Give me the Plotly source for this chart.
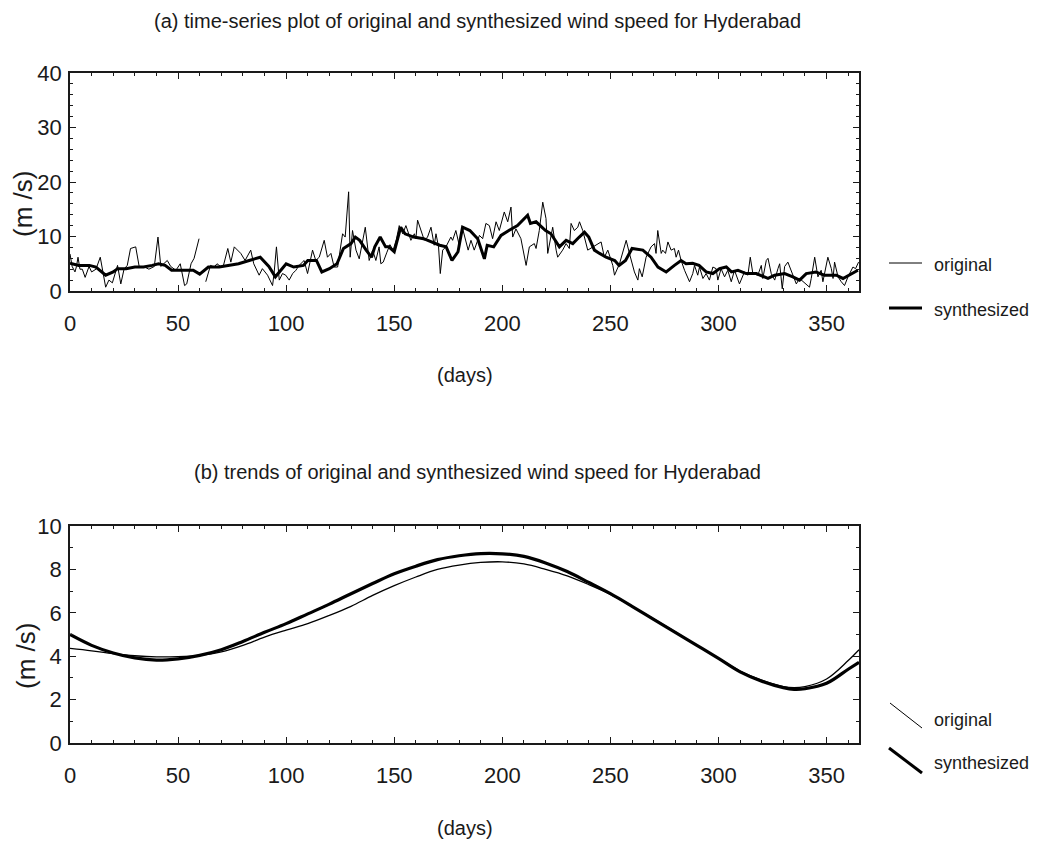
import plotly.graph_objects as go

# ---------------- data ----------------
orig_days = [0, 1, 2.3, 3, 3.7, 4.6, 5.7, 7, 8.8, 10, 12, 14, 16.5, 18, 19.6, 22, 23.5, 25, 26.5, 28,
             30.4, 32, 34, 36.5, 39, 40.7, 42, 45, 46.6, 49, 51, 53, 54, 56, 57.4, 58.5, 59.7, 61,
             62.8, 65, 66.7, 68, 70, 71, 73, 74.4, 76, 79, 81, 83.6, 85, 87.5, 89, 91.4, 93.7, 94.4,
             95.5, 96.8, 98.3, 99.8, 101.4, 103, 104.5, 106, 108.3, 109.9, 112.2, 113.7, 115.3, 117.6,
             119.1, 120.7, 122.2, 123.8, 126.1, 127.3, 128.9, 129.6, 130.7, 132.3, 133.8, 136.6, 138.4,
             140, 141.5, 143, 143.8, 144.9, 146.5, 148, 149.5, 151, 152.3, 153.9, 155.4, 157.7, 159.3,
             160, 160.8, 162.3, 163.9, 165.4, 167, 168.5, 169.3, 170.5, 171.3, 172.4, 173.9, 176.2, 177,
             178.5, 180, 181.6, 182.8, 184.2, 185.5, 187, 189.4, 190.9, 192.4, 194, 195.5, 197.1, 198.6,
             200.9, 202.5, 204, 204.8, 206.3, 208.6, 211, 212.5, 214.8, 215.6, 217.1, 218.7, 220.2, 221,
             223.3, 224.9, 225.6, 227.9, 229.5, 231, 231.8, 233.3, 234.9, 235.7, 237.2, 239.5, 241.8,
             245.7, 247.2, 248.8, 251.1, 251.9, 254.2, 255.7, 257.3, 258.8, 259.6, 261.1, 262.7, 263.4,
             264.7, 266.5, 268.8, 270.4, 271.1, 271.9, 273.5, 274.2, 275.5, 276.6, 278.1, 279.6, 280.4,
             281.5, 282.7, 284.3, 286.6, 288.1, 288.9, 290.4, 291.2, 292.8, 294.3, 295.8, 297.4, 298.9,
             299.7, 301.2, 302.8, 304.3, 305.9, 307.4, 309.7, 312, 313.6, 314.7, 315.9, 318.2, 319.8,
             320.5, 322.1, 322.9, 324.4, 326, 327.5, 328.3, 329.5, 330.6, 332.1, 333.7, 336, 337.5,
             340.6, 342.1, 342.9, 344.5, 346, 347.5, 348.3, 350.6, 352.2, 353, 353.7, 355.3, 356.8,
             358.3, 359.9, 362.2, 363.4, 364.8]
orig_vals = [6.8, 4.5, 3.5, 4.5, 6.2, 4.0, 4.0, 2.5, 4.5, 3.5, 4.0, 6.2, 0.7, 2.0, 1.5, 4.7, 1.3, 4.0, 4.7, 7.8,
             8.1, 4.5, 4.5, 4.0, 4.5, 9.9, 4.5, 5.6, 4.5, 3.8, 5.0, 1.0, 1.3, 5.0, 6.0, 7.5, 9.6, None,
             1.7, 4.7, 4.4, 5.0, 4.4, 4.7, 7.8, 5.3, 8.1, 6.9, 5.6, 7.5, 5.0, 2.9, 4.1, 2.9, 1.0, 3.2,
             8.1, 2.0, 3.2, 2.9, 2.0, 3.2, 3.8, 4.7, 5.6, 3.2, 7.5, 5.6, 6.2, 9.3,
             6.2, 6.9, 4.4, 4.4, 10.5, 9.9, 18.2, 6.2, 11.1, 7.5, 5.9, 11.7, 5.6,
             7.5, 5.6, 8.1, 5.0, 5.3, 7.0, 8.5, 7.5, 9.5, 12.0, 10.5, 12.0, 9.3, 10.5,
             9.6, 13.0, 11.1, 9.3, 9.9, 11.7, 8.4, 10.5, 8.1, 3.2, 7.5, 8.1, 9.9, 9.3,
             11.1, 8.5, 11.5, 9.6, 7.5, 9.3, 7.5, 10.2, 9.6, 12.4, 12.0, 9.6, 12.7, 11.1,
             14.5, 12.7, 15.4, 9.9, 11.4, 9.6, 4.7, 8.1, 8.7, 7.8, 11.1, 16.3, 13.3, 6.9,
             11.7, 7.5, 6.2, 7.5, 8.7, 7.8, 12.4, 11.1, 11.7, 12.7, 11.1, 7.5, 8.1,
             9.0, 6.2, 7.5, 4.7, 2.9, 5.0, 7.2, 9.3, 6.9, 5.7, 3.5, 2.0, 4.1,
             2.6, 6.2, 8.1, 8.7, 6.9, 11.1, 6.9, 7.5, 6.9, 9.0, 7.5, 7.8, 6.2,
             7.5, 5.6, 3.8, 1.7, 3.2, 4.7, 2.9, 4.4, 2.3, 3.2, 2.0, 4.4, 4.1,
             2.0, 4.1, 2.6, 3.8, 1.7, 3.8, 1.3, 3.5, 2.9, 6.2, 3.2, 2.9, 4.7,
             2.3, 5.6, 6.0, 3.2, 2.0, 4.1, 5.0, 0.4, 4.5, 5.3, 3.5, 1.3, 2.3,
             1.3, 0.7, 2.3, 6.2, 2.6, 3.8, 1.7, 6.2, 4.1, 2.3, 5.3, 2.6, 1.7,
             1.0, 2.6, 4.4, 4.1, 5.3]

synth_days = [0, 4, 9, 12, 16.5, 20, 22, 26, 30, 34, 38, 41, 44, 47, 50, 54, 57, 60, 64, 69, 73.6, 78,
              82.9, 86, 88, 92, 95, 100, 103.5, 108, 110, 114, 116.5, 120, 123.5, 126.5, 130, 132, 134,
              137, 139.5, 141, 143.5, 146, 147.5, 150, 151.5, 153, 155, 159, 163.6, 167, 171, 174, 176.7,
              179.5, 181.6, 185, 188.6, 191.7, 193, 196, 199.4, 203, 207, 211.7, 213, 215.6, 220, 222.5,
              225, 226.4, 229.5, 232.6, 235.6, 238, 240, 242.6, 245, 248, 252, 254, 257, 260, 265, 268.8,
              272, 275.8, 279.6, 282.7, 285, 288, 291, 294.3, 297.4, 300.5, 303.6, 306, 309, 312.8,
              317.5, 322.9, 326, 330.6, 334.4, 337.5, 340.6, 345, 349, 354.5, 357.6, 361.4, 364.5]
synth_vals = [5.1, 4.7, 4.7, 4.4, 2.9, 3.5, 4.1, 4.1, 4.4, 4.4, 4.7, 5.0, 4.7, 3.8, 3.8, 3.8, 3.8, 3.1, 4.4,
              4.4, 4.7, 5.0, 5.6, 6.0, 6.2, 4.5, 2.6, 5.0, 4.4, 4.7, 5.6, 5.6, 3.5, 4.1, 5.0, 7.8, 8.7,
              9.9, 9.3, 7.5, 6.2, 8.1, 9.9, 8.1, 8.1, 7.2, 9.3, 11.7, 10.5, 9.9, 9.6, 9.0, 8.4, 8.1,
              5.6, 7.2, 11.7, 11.1, 9.6, 5.9, 8.4, 8.1, 10.2, 11.1, 12.0, 13.9, 12.4, 12.7, 11.1, 10.5,
              9.0, 8.1, 9.3, 8.7, 9.9, 10.8, 9.9, 7.5, 6.9, 6.2, 5.6, 4.7, 5.6, 7.8, 7.5, 6.2, 4.4, 3.5,
              4.7, 5.6, 5.0, 5.1, 4.7, 3.5, 3.2, 4.1, 4.4, 3.5, 3.8, 3.2, 3.2, 2.3, 2.9, 3.2, 2.6, 2.0,
              3.2, 3.5, 2.9, 2.9, 2.3, 3.2, 3.8]

trend_days = [0, 10, 20, 30, 40, 50, 60, 70, 80, 90, 100, 110, 120, 130, 140, 150, 160, 170, 180, 190,
              200, 210, 220, 230, 240, 250, 260, 270, 280, 290, 300, 310, 320, 330, 335, 340, 350, 360, 365]
trend_orig = [4.36, 4.25, 4.12, 4.02, 3.97, 3.98, 4.04, 4.2, 4.5, 4.88, 5.2, 5.5, 5.88, 6.3, 6.8, 7.25,
              7.65, 8.0, 8.2, 8.32, 8.35, 8.25, 8.0, 7.7, 7.3, 6.85, 6.3, 5.72, 5.12, 4.5, 3.9, 3.32,
              2.9, 2.6, 2.55, 2.6, 2.95, 3.8, 4.3]
trend_synth = [5.0, 4.5, 4.15, 3.92, 3.82, 3.88, 4.04, 4.3, 4.68, 5.1, 5.5, 5.95, 6.4, 6.88, 7.35, 7.8,
               8.15, 8.45, 8.63, 8.73, 8.72, 8.6, 8.3, 7.9, 7.4, 6.88, 6.3, 5.7, 5.1, 4.5, 3.9, 3.28,
               2.85, 2.55, 2.47, 2.5, 2.75, 3.4, 3.72]

x_ticks = [0, 50, 100, 150, 200, 250, 300, 350]
top_title = "(a) time-series plot of original and synthesized wind speed for Hyderabad"
bot_title = "(b) trends of original and synthesized wind speed for Hyderabad"
x_label = "(days)"
y_label = "(m /s)"
legend_names = ["original", "synthesized"]

# ---------------- figure ----------------
OFF = 8                                # page body margin in the browser
W, H = 1040 - OFF, 853 - OFF
L, R, T, B = 70, 859, 73, 743          # plot-area box in page pixels
PW, PH = R - L, B - T
def px(x): return (x - L) / PW
def py(y): return (B - y) / PH

FONT = "Liberation Sans, Arial, sans-serif"
INK = "#1a1a1a"

fig = go.Figure()
fig.add_trace(go.Scatter(x=orig_days, y=orig_vals, mode="lines", line=dict(color="black", width=1),
                         connectgaps=False, xaxis="x", yaxis="y", name=legend_names[0], showlegend=False))
fig.add_trace(go.Scatter(x=synth_days, y=synth_vals, mode="lines", line=dict(color="black", width=3),
                         xaxis="x", yaxis="y", name=legend_names[1], showlegend=False))
fig.add_trace(go.Scatter(x=trend_days, y=trend_orig, mode="lines", line=dict(color="black", width=1.3, shape="spline"),
                         xaxis="x2", yaxis="y2", name=legend_names[0], showlegend=False))
fig.add_trace(go.Scatter(x=trend_days, y=trend_synth, mode="lines", line=dict(color="black", width=3.2, shape="spline"),
                         xaxis="x2", yaxis="y2", name=legend_names[1], showlegend=False))

top_dom = [py(291), 1.0]
bot_dom = [0.0, py(526)]

axis_common = dict(showline=True, linecolor=INK, linewidth=1.5, mirror="ticks", ticks="inside",
                   ticklen=6, tickwidth=1.2, tickcolor=INK, showgrid=False, zeroline=False,
                   tickfont=dict(family=FONT, size=22, color=INK))
xminor = dict(dtick=10, tick0=0, ticks="inside", ticklen=3, tickcolor=INK)

fig.update_layout(
    width=W, height=H,
    margin=dict(l=L - OFF, r=1040 - R, t=T - OFF, b=853 - B),
    paper_bgcolor="white", plot_bgcolor="white",
    showlegend=False,
    xaxis=dict(domain=[0, 1], range=[0, 365], tickvals=x_ticks, anchor="y", ticklabelstandoff=12,
               minor=xminor, **axis_common),
    yaxis=dict(domain=top_dom, range=[0, 40], dtick=10, anchor="x", ticklabelstandoff=2,
               minor=dict(dtick=2, tick0=0, ticks="inside", ticklen=3, tickcolor=INK), **axis_common),
    xaxis2=dict(domain=[0, 1], range=[0, 365], tickvals=x_ticks, anchor="y2", ticklabelstandoff=12,
                minor=xminor, **axis_common),
    yaxis2=dict(domain=bot_dom, range=[0, 10], dtick=2, anchor="x2", ticklabelstandoff=2,
                minor=dict(dtick=1, tick0=0, ticks="inside", ticklen=3, tickcolor=INK), **axis_common),
)

def ann(text, x, y, size=20, angle=0, xanchor="center"):
    fig.add_annotation(text=text, xref="paper", yref="paper", x=px(x), y=py(y), showarrow=False,
                       xanchor=xanchor, yanchor="middle", textangle=angle,
                       font=dict(family=FONT, size=size, color=INK))

ann(top_title, 477, 21, size=20)
ann(bot_title, 477, 472, size=20)
ann(x_label, 465, 375, size=20)
ann(x_label, 465, 828, size=20)
ann(y_label, 23, 204, size=26, angle=-90)
ann(y_label, 26, 656, size=26, angle=-90)

# legends
def seg(x0, y0, x1, y1, w):
    fig.add_shape(type="line", xref="paper", yref="paper", x0=px(x0), y0=py(y0), x1=px(x1), y1=py(y1),
                  line=dict(color="black", width=w))

seg(889, 263, 922, 263, 1)
seg(889, 308, 922, 308, 3)
ann(legend_names[0], 932, 265, size=18, xanchor="left")
ann(legend_names[1], 932, 310, size=18, xanchor="left")
seg(890, 703, 922, 728, 1)
seg(889, 748, 922, 773, 3)
ann(legend_names[0], 932, 720, size=18, xanchor="left")
ann(legend_names[1], 932, 763, size=18, xanchor="left")

fig.write_html("out.html")
